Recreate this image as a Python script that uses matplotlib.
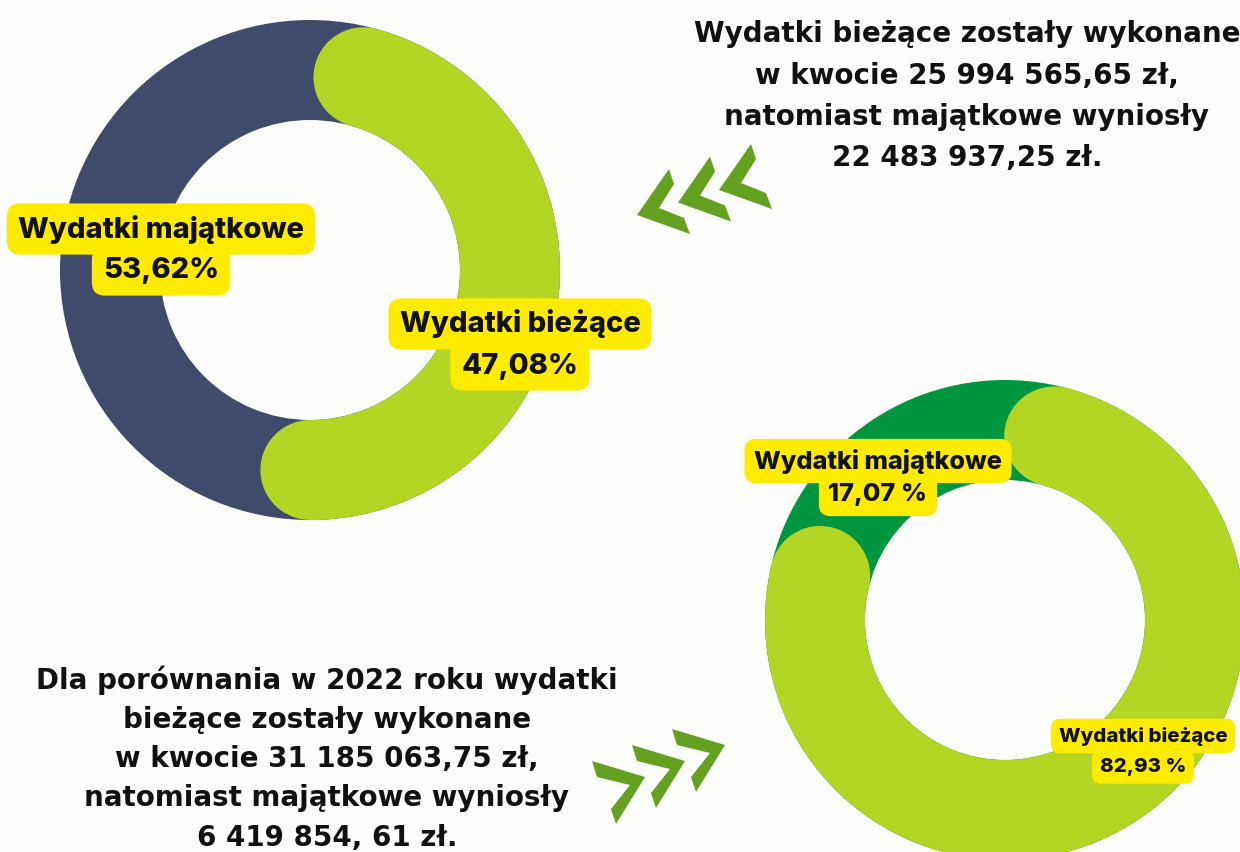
import numpy as np
import matplotlib.pyplot as plt
from matplotlib.patches import Wedge, Circle, Polygon

plt.rcParams['font.family'] = ['DejaVu Sans']

# dane - 2023
pct_biezace_2023 = 47.08
pct_majatkowe_2023 = 53.62
# dane - 2022
pct_biezace_2022 = 82.93
pct_majatkowe_2022 = 17.07

label_2023_maj = ['Wydatki majątkowe', '53,62%']
label_2023_bie = ['Wydatki bieżące', '47,08%']
label_2022_maj = ['Wydatki majątkowe', '17,07 %']
label_2022_bie = ['Wydatki bieżące', '82,93 %']

text_2023 = ['Wydatki bieżące zostały wykonane',
             'w kwocie 25 994 565,65 zł,',
             'natomiast majątkowe wyniosły',
             '22 483 937,25 zł.']
text_2022 = ['Dla porównania w 2022 roku wydatki',
             'bieżące zostały wykonane',
             'w kwocie 31 185 063,75 zł,',
             'natomiast majątkowe wyniosły',
             '6 419 854, 61 zł.']

W, H = 1240, 852
bg = '#fdfdfb'
light = '#b3d523'
navy = '#404b6b'
dgreen = '#009640'
yellow = '#ffeb00'
arrow = '#65a121'
ink = '#111111'
label_font = ['Inter', 'DejaVu Sans']

fig = plt.figure(figsize=(W / 100, H / 100), dpi=100, facecolor=bg)
ax = fig.add_axes([0, 0, 1, 1])
ax.set_xlim(0, W)
ax.set_ylim(H, 0)
ax.set_aspect('equal')
ax.axis('off')


def donut(cx, cy, r, w, pct, start, ring_col, arc_col):
    # pierscien tla + luk z zaokraglonymi koncami (razem z koncami = pct)
    ax.add_patch(Wedge((cx, cy), r, 0, 360, width=w, fc=ring_col, ec='none', zorder=1))
    rm = r - w / 2
    cap = np.degrees(w / 2 / rm)
    sweep = pct / 100 * 360 - 2 * cap
    t1 = start - 90
    t2 = t1 + sweep
    ax.add_patch(Wedge((cx, cy), r, t1, t2, width=w, fc=arc_col, ec='none', zorder=2))
    for t in (t1, t2):
        a = np.radians(t)
        ax.add_patch(Circle((cx + rm * np.cos(a), cy + rm * np.sin(a)), w / 2,
                            fc=arc_col, ec='none', zorder=2))


def label(x, y, lines, size, gap):
    for i, s in enumerate(lines):
        ax.text(x, y + i * gap, s, ha='center', va='center', fontsize=size,
                fontweight='heavy', color=ink, zorder=5, family=label_font,
                bbox=dict(boxstyle='round,pad=0.38,rounding_size=0.45',
                          fc=yellow, ec='none'))


# w oryginale jasny luk 2023 ma dlugosc udzialu 53,62%
donut(310, 270, 250, 100, pct_majatkowe_2023, 15.5, navy, light)
donut(1005, 620, 240, 100, pct_biezace_2022, 15, dgreen, light)

label(161, 229, label_2023_maj, 21, 42)
label(520, 324, label_2023_bie, 21, 42)
label(878, 461, label_2022_maj, 18.2, 34)
label(1143, 736, label_2022_bie, 14.7, 31)

for i, s in enumerate(text_2023):
    ax.text(967, 34 + i * 41.5, s, ha='center', va='center', fontsize=20,
            fontweight='bold', color=ink)
for i, s in enumerate(text_2022):
    ax.text(327, 680 + i * 39.5, s, ha='center', va='center', fontsize=20,
            fontweight='bold', color=ink)

# strzalki
chev_left = np.array([(637, 215), (669, 169), (674, 184), (659, 208), (684, 218), (690, 234)])
for k in range(3):
    ax.add_patch(Polygon(chev_left + np.array([41 * k, -12.5 * k]), closed=True,
                         fc=arrow, ec='none', zorder=3))
chev_right = np.array([(592, 761), (645, 777), (616, 824), (611, 809), (630, 785), (597, 777)])
for k in range(3):
    ax.add_patch(Polygon(chev_right + np.array([40 * k, -16 * k]), closed=True,
                         fc=arrow, ec='none', zorder=3))

fig.savefig('out.png', dpi=100, facecolor=bg)
